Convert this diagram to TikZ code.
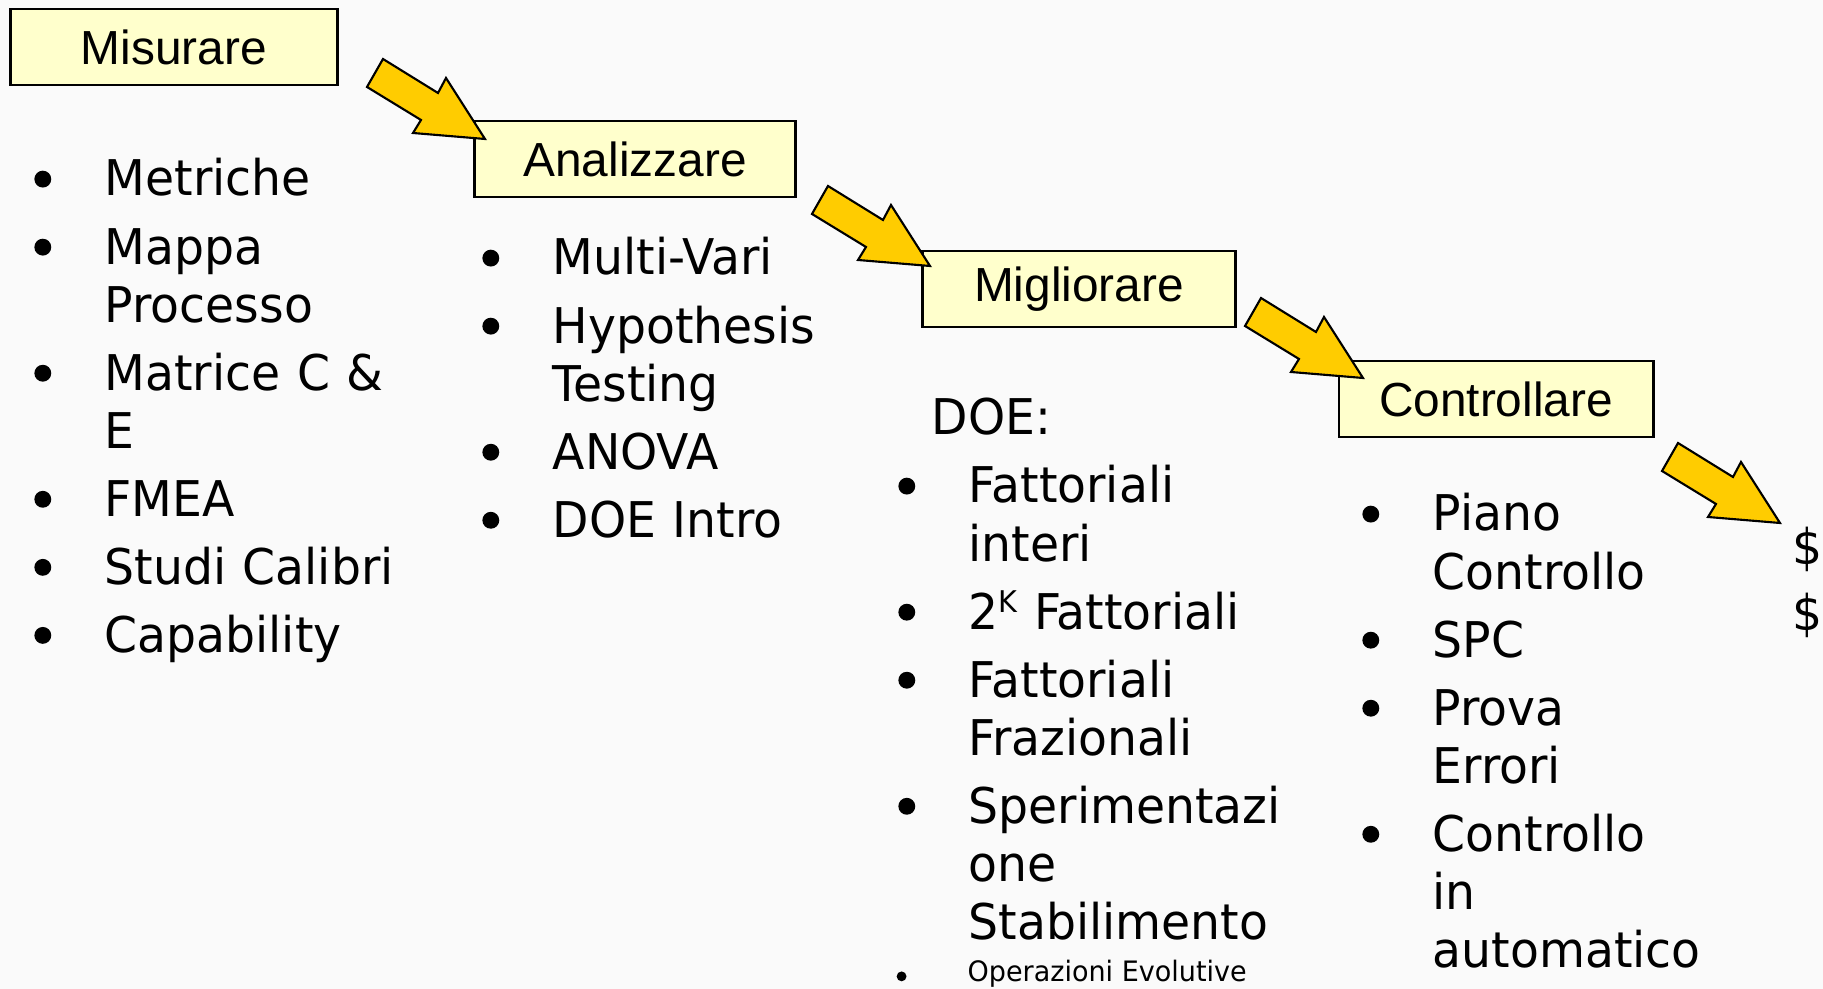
\documentclass[tikz,border=0pt]{standalone}
\usepackage{fontspec}
\setmainfont{Liberation Sans}
\newfontfamily\listfont[FakeStretch=0.96]{DejaVu Sans}
\usetikzlibrary{positioning}
\definecolor{bgGray}{RGB}{250,250,250}
\definecolor{boxFill}{RGB}{255,255,204}
\definecolor{arrFill}{RGB}{255,204,0}
\tikzset{
  phase/.style={rectangle, draw=black, line width=0.8pt, fill=boxFill,
                minimum height=0.76cm, inner sep=0pt, align=center,
                font=\fontsize{13.6pt}{15pt}\selectfont},
  items/.style={anchor=base west, inner sep=0pt, text width=4cm, align=left,
                font=\listfont\fontsize{14pt}{16.5pt}\selectfont},
  smallitem/.style={anchor=base west, inner sep=0pt, align=left,
                    font=\listfont\fontsize{8pt}{9pt}\selectfont},
}
\tikzset{
  fatarrow/.pic={
    \filldraw[fill=arrFill, draw=black, line width=0.6pt, line join=miter]
      (0,0) -- (-72,-6) -- (-64,-19) -- (-118,-52) -- (-102,-80)
      -- (-47,-46) -- (-39,-61) -- cycle;},
}
\newcommand{\bltx}[3]{\leavevmode\llap{\tikz[baseline=-#2]\fill (0,0) circle (#1);\hspace{#3}}}
\newcommand{\blt}{\bltx{2.4pt}{4.8pt}{15.2pt}}
\newcommand{\nx}{\\[2.85pt]}
\newcommand{\supK}{\raisebox{4.6pt}{\fontsize{8.5pt}{8.5pt}\selectfont K}}

\begin{document}
\begin{tikzpicture}[x=0.01cm, y=-0.01cm]
  \useasboundingbox (0,0) rectangle (1823,989);
  \fill[bgGray] (0,0) rectangle (1823,989);

  % phase boxes
  \node[phase, minimum width=3.26cm] (mis) at (174,47) {Misurare};
  \node[phase, minimum width=3.21cm] (ana) at (635,159) {Analizzare};
  \node[phase, minimum width=3.13cm] (mig) at (1079,289) {Migliorare};
  \node[phase, minimum width=3.14cm] (con) at (1496,399) {Controllare};

  % block arrows between the phases
  \pic (a1) at (485,139) {fatarrow};
  \pic (a2) at (930,266) {fatarrow};
  \pic (a3) at (1363,378) {fatarrow};
  \pic (a4) at (1780,523) {fatarrow};

  % tool lists
  \node[items] (misl) at (104,196) {\blt Metriche\nx
    \blt Mappa\\Processo\nx
    \blt Matrice C \&\\E\nx
    \blt FMEA\nx
    \blt Studi Calibri\nx
    \blt Capability};
  \node[items] (anal) at (552,275) {\blt Multi-Vari\nx
    \blt Hypothesis\\Testing\nx
    \blt ANOVA\nx
    \blt DOE Intro};
  \node[items] (doe) at (931,435) {DOE:};
  \node[items] (migl) at (968,503) {\blt Fattoriali\\interi\nx
    \blt 2\supK\ Fattoriali\nx
    \blt Fattoriali\\Frazionali\nx
    \blt Sperimentazi\\one\\Stabilimento};
  \node[smallitem] (evop) at (967,982) {\bltx{1.4pt}{1.6pt}{17.4pt}Operazioni Evolutive};
  \node[items] (conl) at (1432,531) {\blt Piano\\Controllo\nx
    \blt SPC\nx
    \blt Prova\\Errori\nx
    \blt Controllo\\in\\automatico};

  % result
  \node[items, font=\listfont\fontsize{14pt}{18.5pt}\selectfont] (res) at (1792,565) {\$\\\$};
\end{tikzpicture}
\end{document}
